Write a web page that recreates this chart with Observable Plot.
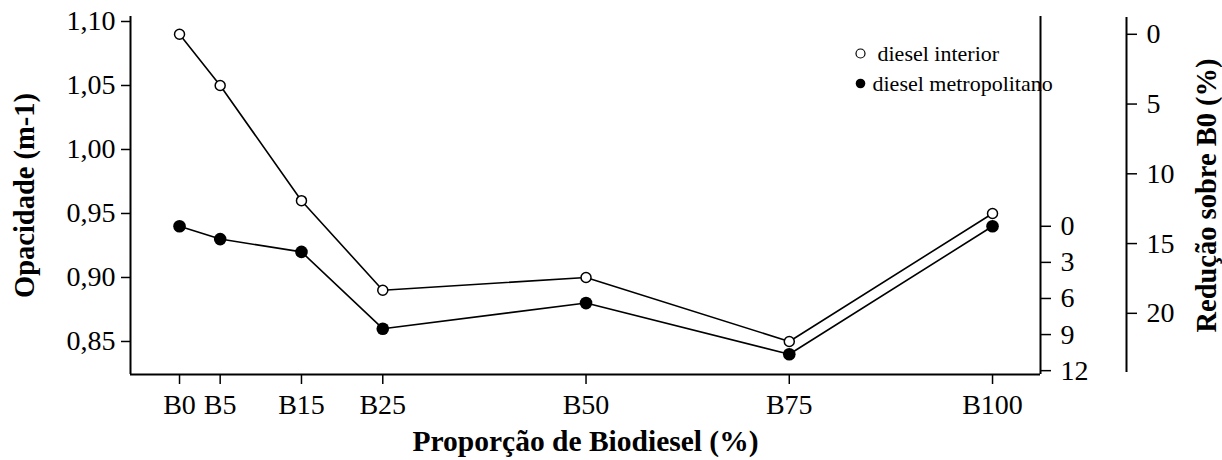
<!DOCTYPE html>
<html><head><meta charset="utf-8">
<script src="https://cdn.jsdelivr.net/npm/d3@7"></script>
<script src="https://cdn.jsdelivr.net/npm/@observablehq/plot@0.6"></script>
<style>body{margin:0;background:#fff}</style>
</head><body><div id="chart"></div>
<script>
const proportions = [0, 5, 15, 25, 50, 75, 100];
const xLabels = ["B0", "B5", "B15", "B25", "B50", "B75", "B100"];
const interior = [1.09, 1.05, 0.96, 0.89, 0.90, 0.85, 0.95];
const metropolitano = [0.94, 0.93, 0.92, 0.86, 0.88, 0.84, 0.94];
const yTicks = [0.85, 0.90, 0.95, 1.00, 1.05, 1.10];
const innerTicks = [0, 3, 6, 9, 12];   // redução (%) sobre B0, diesel metropolitano
const outerTicks = [0, 5, 10, 15, 20]; // redução (%) sobre B0, diesel interior
const seriesNames = ["diesel interior", "diesel metropolitano"];
const xTitle = "Proporção de Biodiesel (%)";
const yTitle = "Opacidade (m-1)";
const y2Title = "Redução sobre B0 (%)";

const rowsI = proportions.map((p, i) => ({x: p, y: interior[i]}));
const rowsM = proportions.map((p, i) => ({x: p, y: metropolitano[i]}));
const xLabelMap = new Map(proportions.map((p, i) => [p, xLabels[i]]));
const innerPos = innerTicks.map(r => metropolitano[0] * (1 - r / 100));
const outerPos = outerTicks.map(r => interior[0] * (1 - r / 100));
const innerMap = new Map(innerPos.map((v, i) => [v, String(innerTicks[i])]));
const outerMap = new Map(outerPos.map((v, i) => [v, String(outerTicks[i])]));

const xDomain = [-6.03, 105.9];
const yDomain = [0.8242, 1.1039];
const font = 28;

const plot = Plot.plot({
  width: 1222, height: 460,
  marginLeft: 130, marginRight: 182, marginTop: 16, marginBottom: 86,
  style: {fontFamily: "Liberation Serif", fontSize: font + "px", color: "black", background: "white"},
  x: {domain: xDomain},
  y: {domain: yDomain},
  marks: [
    Plot.axisX(proportions, {tickSize: 10, tickPadding: 10, fontSize: font, strokeWidth: 1.5, tickFormat: d => xLabelMap.get(d), label: null}),
    Plot.axisY(yTicks, {anchor: "left", tickSize: 9, tickPadding: 6, fontSize: font, strokeWidth: 1.5, tickFormat: d => d.toFixed(2).replace(".", ","), label: null}),
    Plot.axisY(innerPos, {anchor: "right", tickSize: 10, tickPadding: 10, fontSize: font, strokeWidth: 1.5, tickFormat: d => innerMap.get(d), label: null}),
    Plot.axisY(outerPos, {anchor: "right", dx: 86, tickSize: 10, tickPadding: 10, fontSize: font, strokeWidth: 1.5, tickFormat: d => outerMap.get(d), label: null}),
    Plot.ruleY([yDomain[0]], {strokeWidth: 2}),
    Plot.ruleX([xDomain[0]], {strokeWidth: 2}),
    Plot.ruleX([xDomain[1]], {strokeWidth: 2}),
    Plot.ruleX([xDomain[1]], {strokeWidth: 2, dx: 86, insetTop: 1, insetBottom: 2}),
    Plot.line(rowsI, {x: "x", y: "y", stroke: "black", strokeWidth: 1.6}),
    Plot.line(rowsM, {x: "x", y: "y", stroke: "black", strokeWidth: 1.6}),
    Plot.dot(rowsI, {x: "x", y: "y", r: 5, stroke: "black", strokeWidth: 1.5, fill: "white"}),
    Plot.dot(rowsM, {x: "x", y: "y", r: 6.3, fill: "black", stroke: "none"}),
    // legend
    Plot.dot([seriesNames[0]], {frameAnchor: "top-left", dx: 730, dy: 37, r: 4.5, stroke: "black", strokeWidth: 1.2, fill: "white"}),
    Plot.text([seriesNames[0]], {text: d => d, frameAnchor: "top-left", dx: 747, dy: 37, textAnchor: "start", lineAnchor: "middle", fontSize: 22}),
    Plot.dot([seriesNames[1]], {frameAnchor: "top-left", dx: 730, dy: 67, r: 4.8, fill: "black", stroke: "none"}),
    Plot.text([seriesNames[1]], {text: d => d, frameAnchor: "top-left", dx: 742, dy: 67, textAnchor: "start", lineAnchor: "middle", fontSize: 22}),
    // titles
    Plot.text([xTitle], {text: d => d, frameAnchor: "bottom", textAnchor: "middle", dy: 67, lineAnchor: "middle", fontSize: 29.5, fontWeight: "bold"}),
    Plot.text([yTitle], {text: d => d, frameAnchor: "left", textAnchor: "middle", dx: -106, rotate: -90, lineAnchor: "middle", fontSize: 28.5, fontWeight: "bold"}),
    Plot.text([y2Title], {text: d => d, frameAnchor: "right", textAnchor: "middle", dx: 166, rotate: -90, lineAnchor: "middle", fontSize: 28.5, fontWeight: "bold"})
  ]
});
document.getElementById("chart").appendChild(plot);
</script>
</body></html>
